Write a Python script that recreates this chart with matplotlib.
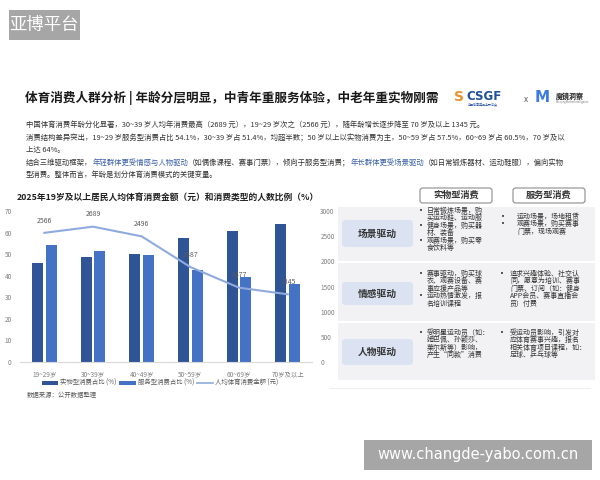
import numpy as np
import matplotlib
matplotlib.use('Agg')
import matplotlib.pyplot as plt
from matplotlib.patches import FancyBboxPatch, Rectangle
from matplotlib.lines import Line2D

plt.rcParams['font.family'] = ['Noto Sans CJK SC', 'DejaVu Sans']

# data
ages = ['19~29岁', '30~39岁', '40~49岁', '50~59岁', '60~69岁', '70岁及以上']
goods_pct = [45.9, 48.6, 50.2, 57.5, 60.5, 64.0]
service_pct = [54.1, 51.4, 49.8, 42.5, 39.5, 36.0]
spend = [2566, 2689, 2496, 1887, 1477, 1345]

W, H = 600, 480
fig = plt.figure(figsize=(6, 4.8), dpi=100)
fig.patch.set_facecolor('white')

def fx(x):
    return x / W

def fy(y):
    return 1 - y / H

def box(x0, y0, x1, y1, fc, ec='none', r=0, lw=0.8):
    if r > 0:
        p = FancyBboxPatch((fx(x0), fy(y1)), fx(x1 - x0), (y1 - y0) / H,
                           boxstyle='round,pad=0,rounding_size=%f' % (r / W),
                           fc=fc, ec=ec, lw=lw, transform=fig.transFigure)
    else:
        p = Rectangle((fx(x0), fy(y1)), fx(x1 - x0), (y1 - y0) / H,
                      fc=fc, ec=ec, lw=lw, transform=fig.transFigure)
    fig.patches.append(p)

# watermarks
box(9, 10, 80, 40, '#a6a6a6')
fig.text(fx(44.5), fy(25), '亚博平台', color='white', fontsize=12.5, ha='center', va='center')
box(364, 440, 592, 470, '#a6a6a6')
fig.text(fx(478), fy(455), 'www.changde-yabo.com.cn', color='white', fontsize=10.5,
         ha='center', va='center', family=['DejaVu Sans'])

# title
fig.text(fx(25), fy(98), '体育消费人群分析 | 年龄分层明显，中青年重服务体验，中老年重实物刚需',
         fontsize=9.1, fontweight='bold', color='#1a1a1a', va='center')
# logos (approximation)
fig.text(fx(454), fy(97), 'S', fontsize=10, fontweight='bold', color='#e8912d', va='center',
         family=['DejaVu Sans'])
fig.text(fx(466), fy(96), 'CSGF', fontsize=8.5, fontweight='bold', color='#1f4e9a', va='center',
         family=['DejaVu Sans'])
fig.text(fx(468), fy(104.5), '中国体育用品业联合会', fontsize=2.2, color='#1f4e9a', va='center')
fig.text(fx(524), fy(99), 'x', fontsize=6, color='#555555', va='center')
fig.text(fx(535), fy(98), 'M', fontsize=11, fontweight='bold', color='#3d7be0', va='center',
         family=['DejaVu Sans'])
fig.text(fx(556), fy(96), '魔镜洞察', fontsize=5, fontweight='bold', color='#222222', va='center')
fig.text(fx(556), fy(102), 'Moojing Market Intelligence', fontsize=1.8, color='#777777', va='center')

# body text
body_fs = 5.3
body_col = '#333333'
blue = '#3a5fa8'
lines = [
    [('中国体育消费年龄分化显著，30~39 岁人均年消费最高（2689 元），19~29 岁次之（2566 元），随年龄增长逐步降至 70 岁及以上 1345 元。', body_col)],
    [('消费结构差异突出，19~29 岁服务型消费占比 54.1%，30~39 岁占 51.4%，均超半数；50 岁以上以实物消费为主，50~59 岁占 57.5%，60~69 岁占 60.5%，70 岁及以', body_col)],
    [('上达 64%。', body_col)],
    [('结合三维驱动框架，', body_col), ('年轻群体更受情感与人物驱动', blue), ('（如偶像课程、赛事门票），倾向于服务型消费；', body_col),
     ('年长群体更受场景驱动', blue), ('（如日常锻炼器材、运动鞋服），偏向实物', body_col)],
    [('型消费。整体而言，年龄是划分体育消费模式的关键变量。', body_col)],
]
line_y = [125, 138, 150, 163, 175]
renderer = fig.canvas.get_renderer()
for segs, yy in zip(lines, line_y):
    x = fx(26)
    for s, c in segs:
        t = fig.text(x, fy(yy), s, fontsize=body_fs, color=c, va='center')
        bb = t.get_window_extent(renderer=renderer)
        x = bb.x1 / fig.bbox.width

# chart title
fig.text(fx(168), fy(197), '2025年19岁及以上居民人均体育消费金额（元）和消费类型的人数比例（%）',
         fontsize=6.3, fontweight='bold', color='#222222', ha='center', va='center')

# chart
ax = fig.add_axes([fx(20), fy(362), fx(312 - 20), (362 - 211) / H])
ax2 = ax.twinx()
xpos = np.arange(len(ages))
bw = 0.23
dark = '#2f5597'
light = '#4472c4'
ax.bar(xpos - 0.14, goods_pct, bw, color=dark, label='实物型消费占比 (%)')
ax.bar(xpos + 0.14, service_pct, bw, color=light, label='服务型消费占比 (%)')
ax.set_ylim(0, 70)
ax.set_xlim(-0.5, 5.5)
ax.set_yticks(range(0, 71, 10))
ax.set_xticks(xpos)
ax.set_xticklabels(ages)
line_col = '#8faadc'
ax2.plot(xpos, spend, color=line_col, lw=1.5, label='人均体育消费金额 (元)')
ax2.set_ylim(0, 3000)
ax2.set_yticks(range(0, 3001, 500))
for xi, v in zip(xpos, spend):
    ax2.annotate(str(v), (xi, v), xytext=(0, 6), textcoords='offset points',
                 ha='center', va='bottom', fontsize=5, color='#595959')
for a in (ax, ax2):
    for s in a.spines.values():
        s.set_visible(False)
    a.tick_params(length=0, labelsize=4.6, labelcolor='#7f7f7f')
ax.spines['bottom'].set_visible(True)
ax.spines['bottom'].set_color('#d9d9d9')
ax.spines['bottom'].set_linewidth(0.8)
ax.tick_params(axis='y', pad=6)
ax2.tick_params(axis='y', pad=6)
ax.tick_params(axis='x', pad=6)

handles = [Rectangle((0, 0), 1, 1, fc=dark), Rectangle((0, 0), 1, 1, fc=light),
           Line2D([0], [0], color=line_col, lw=1.2)]
labels = ['实物型消费占比 (%)', '服务型消费占比 (%)', '人均体育消费金额 (元)']
fig.legend(handles, labels, loc='center', bbox_to_anchor=(fx(160), fy(383)), ncol=3,
           frameon=False, fontsize=4.6, labelcolor='#595959', handlelength=2.6,
           handleheight=0.5, columnspacing=0.4, handletextpad=0.3)
fig.text(fx(27), fy(395), '数据来源：公开数据整理', fontsize=4.6, color='#595959', va='center')

# right table
box(338, 207, 595, 380, '#f2f2f4')
fig.lines.append(Line2D([fx(338), fx(595)], [fy(262), fy(262)], color='white', lw=1.5,
                        transform=fig.transFigure))
fig.lines.append(Line2D([fx(338), fx(595)], [fy(322), fy(322)], color='white', lw=1.5,
                        transform=fig.transFigure))
fig.lines.append(Line2D([fx(330), fx(590)], [fy(388), fy(388)], color='#eeeeee', lw=0.8,
                        transform=fig.transFigure))

box(420, 188, 492, 203, 'white', ec='#8c8c8c', r=3)
fig.text(fx(456), fy(195.5), '实物型消费', fontsize=6.6, fontweight='bold', color='#333333',
         ha='center', va='center')
box(513, 188, 585, 203, 'white', ec='#8c8c8c', r=3)
fig.text(fx(549), fy(195.5), '服务型消费', fontsize=6.6, fontweight='bold', color='#333333',
         ha='center', va='center')

row_names = ['场景驱动', '情感驱动', '人物驱动']
row_box = [(220, 247), (282, 305), (339, 365)]
for name, (y0, y1) in zip(row_names, row_box):
    box(342, y0, 413, y1, '#dbe3f3', r=4)
    fig.text(fx(377.5), fy((y0 + y1) / 2), name, fontsize=7, fontweight='bold',
             color='#333333', ha='center', va='center')

tfs = 5.0
tcol = '#333333'
# (lines, bullet line indexes, first y, x bullet, x text)
cells = [
    (['日常锻炼场景，购', '买运动鞋、运动服', '健身场景，购买器', '材、装备', '观赛场景，购买零', '食饮料等'],
     [0, 2, 4], 211, 421, 427),
    (['运动场景，场地租赁', '观赛场景，购买赛事', '门票，现场观赛'], [0, 1], 217, 503, 517),
    (['赛事驱动，购买球', '衣、观赛设备、赛', '事应援产品等', '运动热情激发，报', '名培训课程'],
     [0, 3], 274, 421, 427),
    (['追求兴趣体验、社交认', '同，愿意为培训、赛事', '门票、订阅（如：健身', 'APP会员、赛事直播会', '员）付费'],
     [0], 274, 502, 510),
    (['受明星运动员（如：', '姆巴佩、孙颖莎、', '莱尔斯等）影响，', '产生“同款”消费'], [0], 333, 421, 427),
    (['受运动员影响，引发对', '应体育赛事兴趣，报名', '相关体育项目课程，如：', '足球、乒乓球等'], [0], 333, 502, 510),
]
for txt, bl, y0, xb, xt in cells:
    for i, s in enumerate(txt):
        yy = y0 + i * 7.4
        if i in bl:
            fig.text(fx(xb), fy(yy), '•', fontsize=tfs, color=tcol, ha='center', va='center',
                     family=['DejaVu Sans'])
        fig.text(fx(xt), fy(yy), s, fontsize=tfs, color=tcol, va='center')

fig.savefig('out.png', dpi=100)
